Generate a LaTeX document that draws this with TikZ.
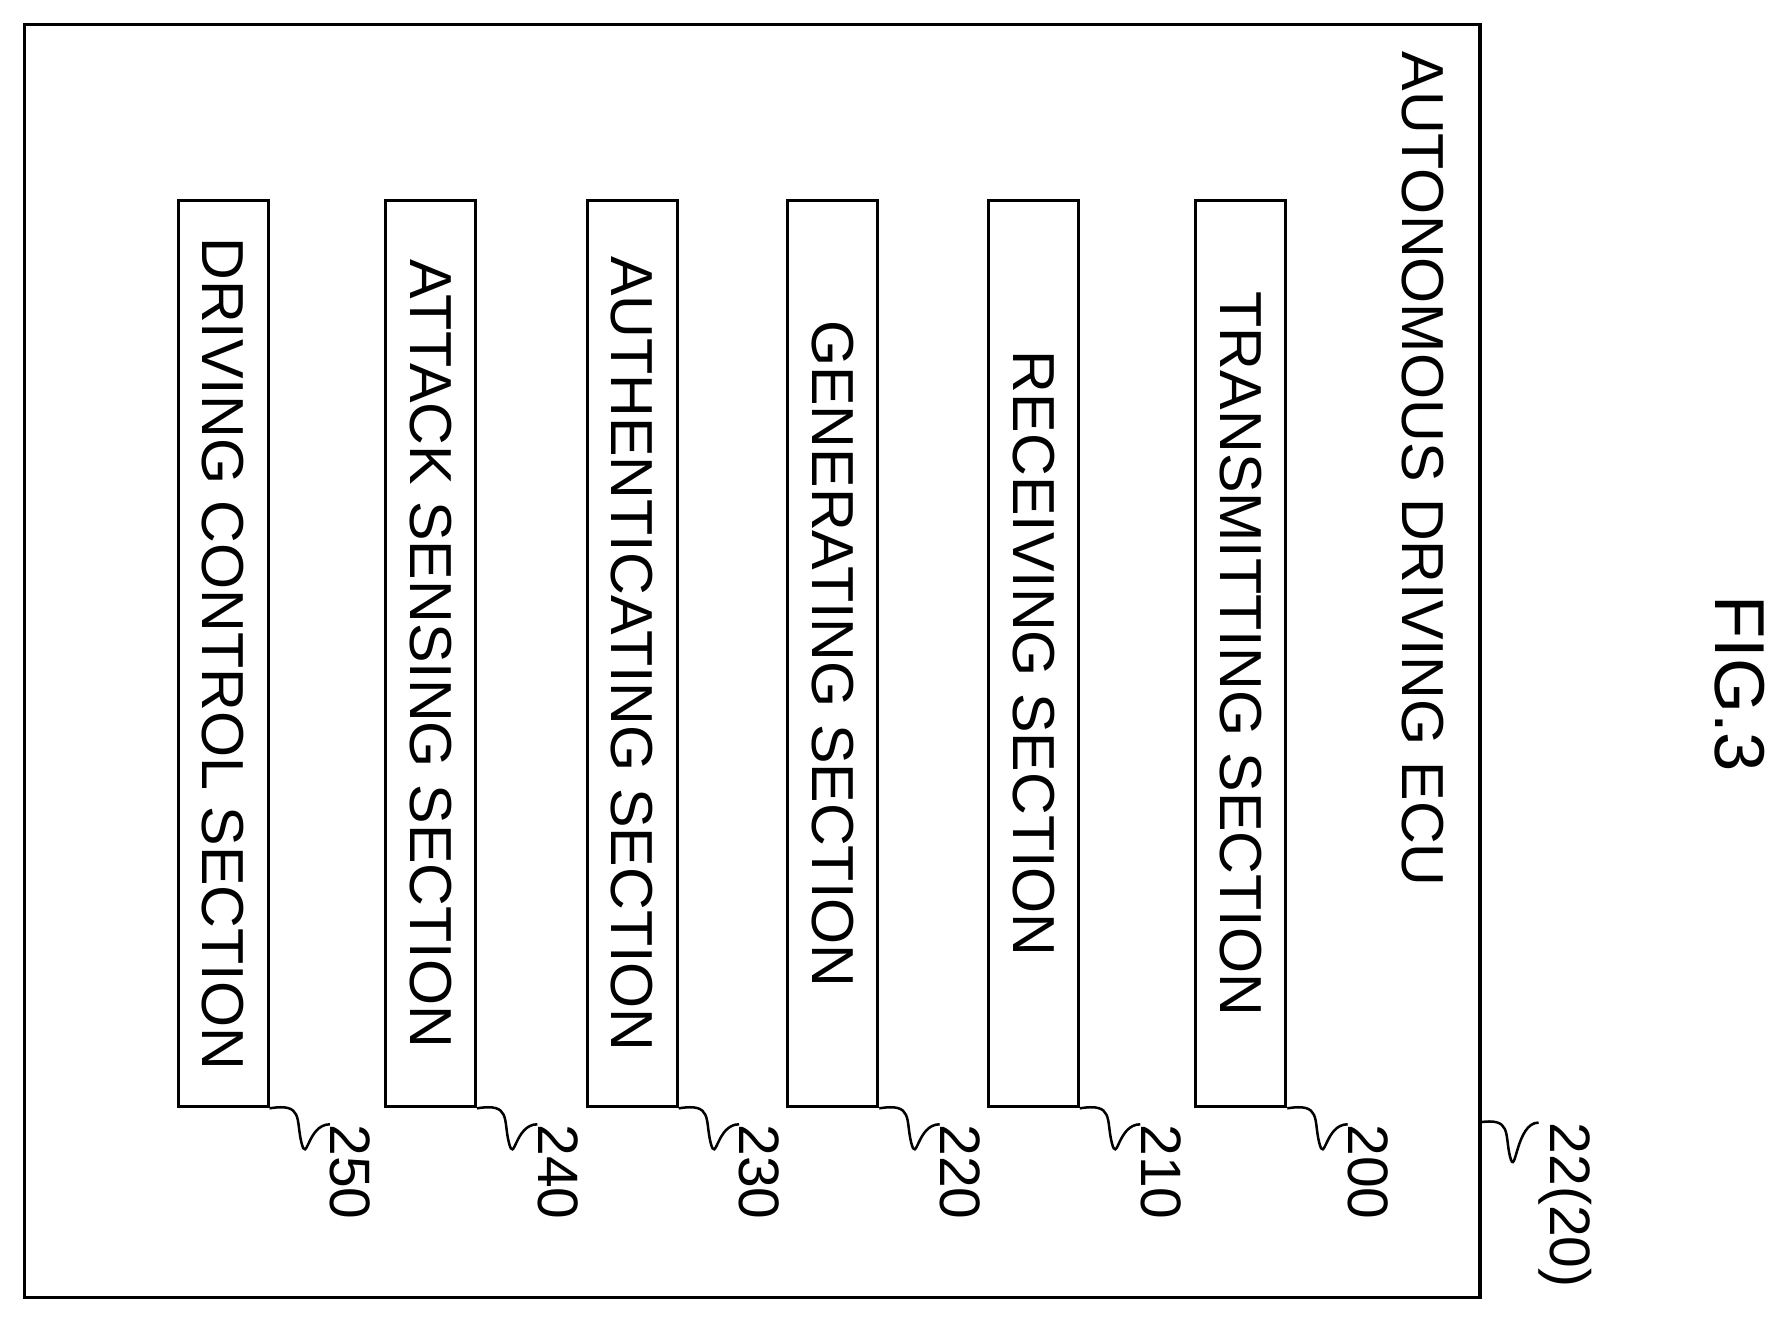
\documentclass[tikz,border=0pt]{standalone}
\usepackage{fontspec}
\setmainfont{Liberation Sans}
\usetikzlibrary{calc}
\begin{document}
\begin{tikzpicture}[x=1pt,y=-1pt,
  blk/.style={draw,line width=2.5pt,minimum width=79pt,minimum height=795pt,anchor=north west,inner sep=0pt},
  txt/.style={rotate=-90,font=\fontsize{52}{52}\selectfont,inner sep=0pt},
  lbl/.style={rotate=-90,font=\fontsize{50}{50}\selectfont,anchor=south west,inner sep=0pt},
  ld/.style={line width=2.2pt}]
\useasboundingbox (0,0) rectangle (1568,1155);
\node[draw,line width=3pt,minimum width=1277pt,minimum height=1117pt,anchor=north west,inner sep=0pt] (ecu) at (20,20) {};
\node[txt,anchor=south west] (title) at (1230,45) {AUTONOMOUS DRIVING ECU};
\node[txt,font=\fontsize{62}{62}\selectfont] (fig) at (1527,600) {FIG.3};
\foreach \n/\x/\t in {250/155/DRIVING CONTROL SECTION,240/337/ATTACK SENSING SECTION,230/514/AUTHENTICATING SECTION,220/690/GENERATING SECTION,210/866/RECEIVING SECTION,200/1048/TRANSMITTING SECTION}{
  \node[blk] (b\n) at (\x,175) {};
  \node[txt] (t\n) at (b\n.center) {\t};
  \node[lbl] (l\n) at ($(b\n.south east)+(53,14)$) {\n};
  \draw[ld] (b\n.south east) .. controls +(30,-5) and +(-5,-20) .. ++(28,30) .. controls +(5,20) and +(-20,0) .. (l\n.south west);
}
\node[lbl] (lecu) at (1350,985) {22(20)};
\draw[ld] (1297,985) .. controls +(30,-5) and +(-5,-20) .. (1325,1015) .. controls +(5,20) and +(-20,0) .. (lecu.south west);
\end{tikzpicture}
\end{document}
